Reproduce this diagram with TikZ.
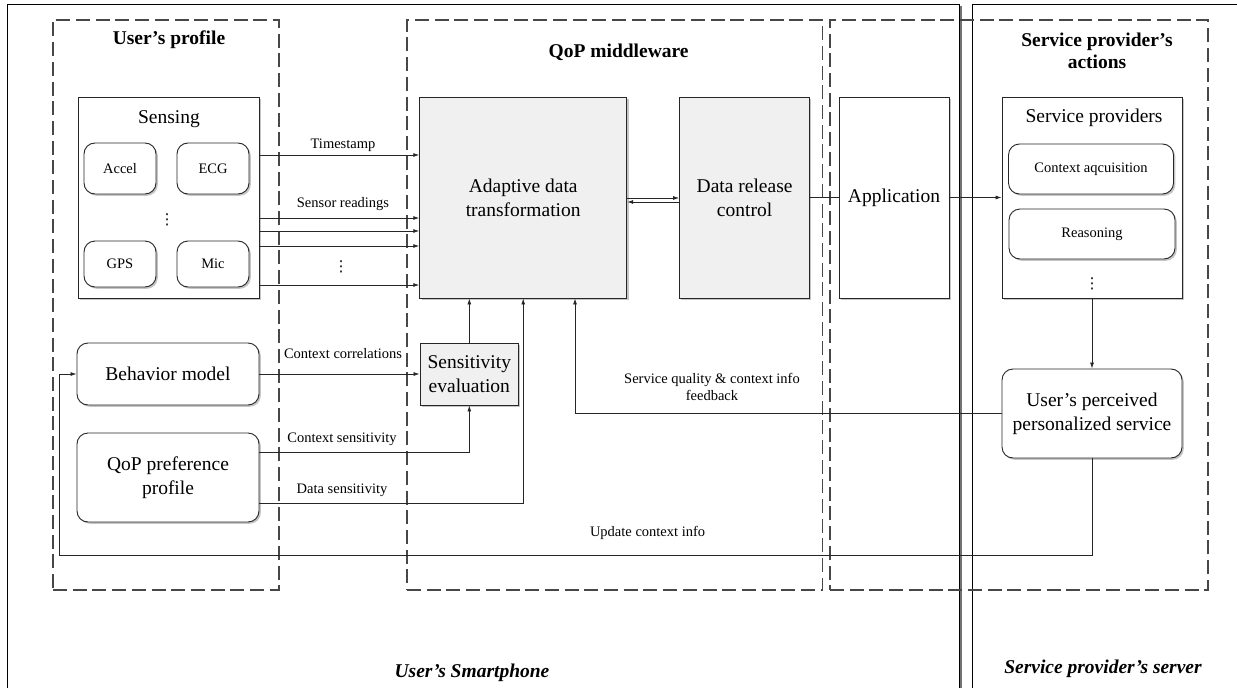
\documentclass[tikz,border=0pt]{standalone}
\usepackage{fontspec}
\setmainfont{Liberation Serif}
\newfontfamily\dotsfont{DejaVu Sans}
\usetikzlibrary{arrows.meta,shadows}
\tikzset{
 big/.style={font=\fontsize{19.5}{24}\selectfont},
 small/.style={font=\fontsize{14.5}{17}\selectfont},
 box/.style={draw=black!85, line width=0.9pt, fill=white, inner sep=0pt, align=center,
   drop shadow={shadow xshift=1.8pt, shadow yshift=-1.8pt, fill=black!45}},
 graybox/.style={box, fill=black!6},
 rbox/.style={box, rounded corners=11pt},
 dashbox/.style={draw=black!72, line width=1.3pt, dash pattern=on 14pt off 5.7pt, inner sep=0pt},
 arr/.style={draw=black!85, line width=0.8pt, -{Latex[length=6pt,width=4pt]}},
 conn/.style={draw=black!85, line width=0.8pt},
 lbl/.style={small, inner sep=0pt, anchor=base, align=center},
 ttl/.style={big, inner sep=0pt, anchor=base, align=center},
 vdotsnode/.style={font=\fontsize{15}{15}\dotsfont, inner sep=0pt},
}
\begin{document}
\begin{tikzpicture}[x=1pt,y=-1pt]
\useasboundingbox (0,0) rectangle (1237,688);
% outer frames
\draw[black!55, line width=2.4pt] (961,6) -- (961,688);
\draw[line width=1pt] (7,688) -- (7,4.5) -- (959,4.5) -- (959,688);
\draw[line width=1pt] (972,688) -- (972,4.5) -- (1237,4.5);
\node[ttl, font=\fontsize{19.5}{24}\selectfont\bfseries\itshape] (phone) at (472,677) {User’s Smartphone};
\node[ttl, font=\fontsize{19.5}{24}\selectfont\bfseries\itshape] (server) at (1103,673) {Service provider’s server};

% dashed groups
\node[dashbox, minimum width=226pt, minimum height=570pt] (upbox) at (166,305) {};
\node[dashbox, minimum width=415.5pt, minimum height=570pt] (mwbox) at (614.75,305) {};
\node[dashbox, minimum width=378pt, minimum height=570pt] (spbox) at (1019,305) {};
\node[ttl, font=\fontsize{19.5}{24}\selectfont\bfseries] (uptitle) at (169,44) {User’s profile};
\node[ttl, font=\fontsize{19.5}{24}\selectfont\bfseries] (mwtitle) at (618.6,57) {QoP middleware};
\node[ttl, font=\fontsize{19.5}{22}\selectfont\bfseries] (sptitle) at (1097,68) {Service provider’s\\actions};

% sensing
\node[box, minimum width=181pt, minimum height=201pt] (sensing) at (168.5,197.5) {};
\node[ttl] (senstitle) at (169,123) {Sensing};
\node[rbox, small, minimum width=72pt, minimum height=51pt] (accel) at (120,168.5) {Accel};
\node[rbox, small, minimum width=72pt, minimum height=51pt] (ecg) at (213,168.5) {ECG};
\node[rbox, small, minimum width=72pt, minimum height=46pt] (gps) at (120,264) {GPS};
\node[rbox, small, minimum width=72pt, minimum height=46pt] (mic) at (213,264) {Mic};
\node[vdotsnode] (sdots) at (167,220) {⋮};

% middleware
\node[graybox, big, minimum width=207pt, minimum height=201pt] (adapt) at (523.2,197.5) {Adaptive data\\transformation};
\node[graybox, big, minimum width=130pt, minimum height=201pt] (drc) at (744.6,197.5) {Data release\\control};
\node[box, big, minimum width=110pt, minimum height=201pt] (app) at (894,197.5) {Application};

% service providers
\node[box, minimum width=180pt, minimum height=201pt] (sp) at (1092,197.5) {};
\node[ttl] (sptit2) at (1094,122) {Service providers};
\node[rbox, small, minimum width=165pt, minimum height=50pt] (ctx) at (1091,169) {Context aqcuisition};
\node[rbox, small, minimum width=166pt, minimum height=50pt] (rea) at (1092,234) {Reasoning};
\node[vdotsnode] (pdots) at (1092,284) {⋮};
\node[rbox, big, minimum width=180pt, minimum height=89pt] (ups) at (1092,413.5) {User’s perceived\\personalized service};

% user's profile lower
\node[rbox, big, minimum width=182pt, minimum height=62pt] (bm) at (168,374) {Behavior model};
\node[rbox, big, minimum width=182pt, minimum height=89pt] (qpp) at (168,477.5) {QoP preference\\profile};
\node[graybox, big, minimum width=98.6pt, minimum height=62pt] (se) at (469.3,374) {Sensitivity\\evaluation};

% sensing -> adaptive
\draw[arr] (sensing.east |- 0,155) -- (adapt.west |- 0,155);
\draw[arr] (sensing.east |- 0,218) -- (adapt.west |- 0,218);
\draw[arr] (sensing.east |- 0,231) -- (adapt.west |- 0,231);
\draw[arr] (sensing.east |- 0,246) -- (adapt.west |- 0,246);
\draw[arr] (sensing.east |- 0,285) -- (adapt.west |- 0,285);
\node[lbl] (l1) at (343,148) {Timestamp};
\node[lbl] (l2) at (343,207) {Sensor readings};
\node[vdotsnode] (adots) at (341,267) {⋮};

% middleware links
\draw[arr] (adapt.east |- 0,198) -- (drc.west |- 0,198);
\draw[arr] (drc.west |- 0,202) -- (adapt.east |- 0,202);
\draw[conn] (drc.east) -- (app.west);
\draw[arr] (app.east) -- (sp.west);
\draw[arr] (sp.south) -- (ups.north);

% sensitivity
\draw[arr] (bm.east) -- (se.west);
\draw[arr] (qpp.east |- 0,452) -| (se.south);
\draw[arr] (qpp.east |- 0,503) -| (adapt.south);
\draw[arr] (se.north) -- (adapt.south -| se.north);
\node[lbl] (l3) at (343,358) {Context correlations};
\node[lbl] (l4) at (342,442.5) {Context sensitivity};
\node[lbl] (l5) at (342,493) {Data sensitivity};

% feedback
\draw[arr] (ups.west) -| (adapt.south -| 575,0);
\node[small, inner sep=0pt, align=center] (l6) at (712,387) {Service quality \& context info\\feedback};
\coordinate (updc) at (59,555);
\draw[arr] (ups.south) |- (updc) |- (bm.west);
\node[lbl] (l7) at (647.6,536) {Update context info};
\end{tikzpicture}
\end{document}
